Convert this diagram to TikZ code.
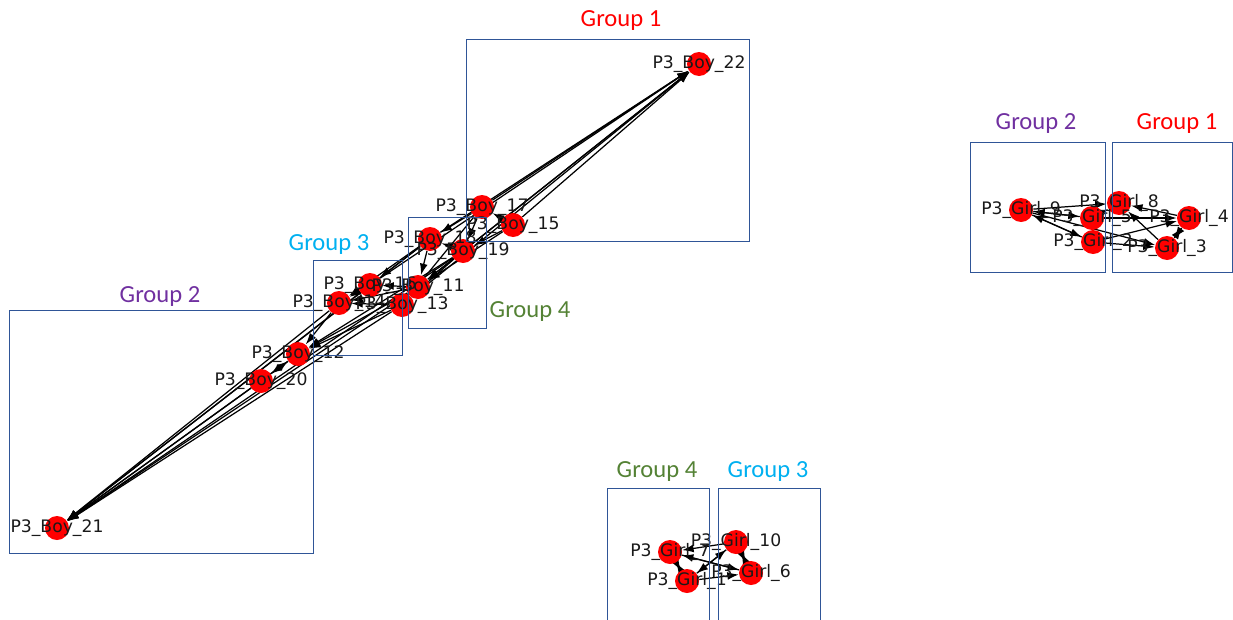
\documentclass[tikz,border=0pt]{standalone}
\usepackage{fontspec}
\setmainfont{DejaVu Sans}
\newfontfamily\grpfont{Carlito}
\usepackage{xcolor}
\definecolor{nodered}{RGB}{255,0,0}
\definecolor{grpred}{RGB}{255,0,0}
\definecolor{grppurple}{RGB}{112,48,160}
\definecolor{grpblue}{RGB}{0,176,240}
\definecolor{grpgreen}{RGB}{84,130,53}
\definecolor{boxblue}{RGB}{47,85,151}
\usepackage{tikz}
\usetikzlibrary{arrows.meta,backgrounds}

\begin{document}
\begin{tikzpicture}[x=0.02cm,y=-0.02cm,
  dot/.style={circle,fill=nodered,inner sep=0pt,minimum size=0.48cm},
  lbl/.style={font=\fontsize{9.8}{10}\selectfont,text=black!90,inner sep=0pt},
  edge/.style={-{Latex[length=6.5pt,width=4.5pt]},line width=0.7pt,black},
  grpbox/.style={draw=boxblue,line width=0.5pt},
  grplbl/.style={font=\grpfont\fontsize{14}{16}\selectfont,inner sep=0pt}]
  \useasboundingbox (0,0) rectangle (1233,619);
  \clip (0,0) rectangle (1233,619);
  % boys
  \node[dot] (boy22) at (699,64) {};
  \node[dot] (boy17) at (482,207) {};
  \node[dot] (boy15) at (513,225) {};
  \node[dot] (boy18) at (430,239) {};
  \node[dot] (boy19) at (463,251) {};
  \node[dot] (boy16) at (370,285) {};
  \node[dot] (boy11) at (418,287) {};
  \node[dot] (boy13) at (402,305) {};
  \node[dot] (boy14) at (339,303) {};
  \node[dot] (boy12) at (298,354) {};
  \node[dot] (boy20) at (261,381) {};
  \node[dot] (boy21) at (57,528) {};
  % girls
  \node[dot] (girl9) at (1021,210) {};
  \node[dot] (girl8) at (1119,203) {};
  \node[dot] (girl5) at (1092,218) {};
  \node[dot] (girl4) at (1189,218) {};
  \node[dot] (girl2) at (1093,242) {};
  \node[dot] (girl3) at (1167,248) {};
  \node[dot] (girl7) at (670,552) {};
  \node[dot] (girl10) at (736,542) {};
  \node[dot] (girl6) at (751,573) {};
  \node[dot] (girl1) at (687,581) {};
  % labels
  \foreach \n in {11,...,22}
    \node[lbl] at (boy\n) {P3\_Boy\_\n};
  \foreach \n in {1,...,10}
    \node[lbl] at (girl\n) {P3\_Girl\_\n};
  % edges
  \begin{scope}[on background layer]
    \foreach \a in {17,15,19,18,11,13,16}
      \draw[edge] (boy\a) -- (boy22);
    \foreach \a in {12,20,14,16,11,13,18,19}
      \draw[edge] (boy\a) -- (boy21);
    \foreach \a/\b in {17/18,15/17,15/19,19/18,17/19,18/16,18/14,19/11,11/16,16/14,
      14/12,12/20,20/12,13/14,11/12,13/12,19/12,15/11,17/13,18/11,19/13,11/14}
      \draw[edge] (boy\a) -- (boy\b);
    \foreach \a/\b in {9/8,5/9,2/9,9/5,9/2,4/8,5/4,2/4,9/3,3/8,4/3,3/4,2/3,5/8}
      \draw[edge] (girl\a) -- (girl\b);
    \foreach \a/\b in {10/7,6/7,7/6,1/10,10/1,1/6,7/1,1/7,6/10,10/6}
      \draw[edge] (girl\a) -- (girl\b);
  \end{scope}
  % group boxes
  \draw[grpbox] (466,39) rectangle (749,241);
  \draw[grpbox] (9,310) rectangle (313,553);
  \draw[grpbox] (313,260) rectangle (402,355);
  \draw[grpbox] (408,217) rectangle (486,328);
  \draw[grpbox] (970,142) rectangle (1105,272);
  \draw[grpbox] (1112,142) rectangle (1232,272);
  \draw[grpbox] (607,488) rectangle (709,640);
  \draw[grpbox] (718,488) rectangle (820,640);
  \node[grplbl,text=grpred] (bg1) at (621,20) {Group 1};
  \node[grplbl,text=grppurple] (bg2) at (160,296) {Group 2};
  \node[grplbl,text=grpblue] (bg3) at (329,244) {Group 3};
  \node[grplbl,text=grpgreen] (bg4) at (530,311) {Group 4};
  \node[grplbl,text=grppurple] (gg2) at (1036,123) {Group 2};
  \node[grplbl,text=grpred] (gg1) at (1177,123) {Group 1};
  \node[grplbl,text=grpgreen] (gg4) at (657,471) {Group 4};
  \node[grplbl,text=grpblue] (gg3) at (768,471) {Group 3};
\end{tikzpicture}
\end{document}
